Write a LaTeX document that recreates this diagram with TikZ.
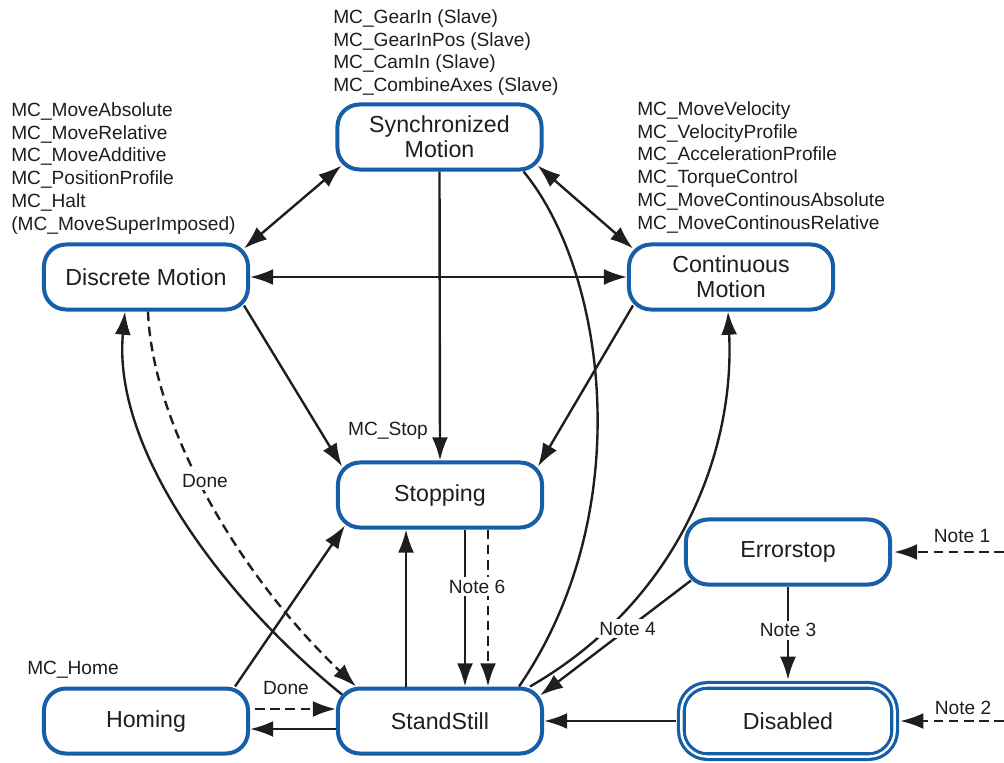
\documentclass[tikz,border=0pt]{standalone}
\usepackage{fontspec}
\setmainfont{Liberation Sans}
\usetikzlibrary{arrows.meta}

\begin{document}
\begin{tikzpicture}[x=0.025cm, y=0.025cm, >={Latex[length=0.58cm,width=0.4cm]},
  state/.style={draw=stateblue, line width=0.1cm, fill=white, text=labeltext,
    rounded corners=0.55cm, minimum width=5.1cm, minimum height=1.625cm,
    inner sep=0pt, align=center, font=\fontsize{16.5}{17.7}\selectfont},
  finalstate/.style={state, line width=0.08cm, double=white, double distance=0.06cm,
    minimum width=5.33cm, minimum height=1.78cm, rounded corners=0.65cm},
  fblist/.style={anchor=north west, inner sep=0pt, align=left, text=labeltext,
    font=\fontsize{13.6}{16.3}\selectfont},
  lbl/.style={anchor=base, inner sep=0pt, text=labeltext,
    font=\fontsize{13.6}{16.3}\selectfont},
  notelbl/.style={lbl, fill=white, inner sep=2pt},
  trans/.style={draw=labeltext, line width=1.7pt},
  dashtrans/.style={trans, dash pattern=on 0.24cm off 0.14cm}
]
% Define colors
\definecolor{stateblue}{RGB}{22,94,168}
\definecolor{labeltext}{RGB}{30,30,30}

% Page frame
\useasboundingbox (0,0) rectangle (1004,-762);

% States
\node[state] (sync) at (439.5,-137) {Synchronized\\Motion};
\node[state] (disc) at (146,-277) {Discrete Motion};
\node[state] (cont) at (731,-277) {Continuous\\Motion};
\node[state] (stop) at (440,-495) {Stopping};
\node[state] (err) at (788,-552) {Errorstop};
\node[state] (home) at (146,-721) {Homing};
\node[state] (still) at (440,-721) {StandStill};
\node[finalstate] (dis) at (788,-721) {Disabled};

% Function block lists
\node[fblist] (synclist) at (333,-9) {MC\_GearIn (Slave)\\MC\_GearInPos (Slave)\\MC\_CamIn (Slave)\\MC\_CombineAxes (Slave)};
\node[fblist] (disclist) at (11,-102) {MC\_MoveAbsolute\\MC\_MoveRelative\\MC\_MoveAdditive\\MC\_PositionProfile\\MC\_Halt\\(MC\_MoveSuperImposed)};
\node[fblist] (contlist) at (637,-101) {MC\_MoveVelocity\\MC\_VelocityProfile\\MC\_AccelerationProfile\\MC\_TorqueControl\\MC\_MoveContinousAbsolute\\MC\_MoveContinousRelative};
\node[lbl] (stoplbl) at (388,-435) {MC\_Stop};
\node[lbl] (homelbl) at (73,-674) {MC\_Home};

% Free ends of the note arrows
\coordinate (note1start) at (1004,-552);
\coordinate (note2start) at (1004,-721);

% Between the motion states
\draw[trans, <->] ([shift={(-6,-6)}]disc.north east) -- ([shift={(6,6)}]sync.south west);
\draw[trans, <->] ([shift={(-6,6)}]sync.south east) -- ([shift={(6,-6)}]cont.north west);
\draw[trans, <->] (disc.east) -- (cont.west);

% Into Stopping
\draw[trans, ->] ([shift={(-6,6)}]disc.south east) -- ([shift={(6,-6)}]stop.north west);
\draw[trans, ->] (sync.south) -- (stop.north);
\draw[trans, ->] ([shift={(6,6)}]cont.south west) -- ([shift={(-6,-6)}]stop.north east);
\draw[trans, ->] ([shift={(-15,0)}]home.north east) -- ([shift={(9,4)}]stop.south west);
\draw[trans, ->] ([shift={(-34,0)}]still.north) -- ([shift={(-34,0)}]stop.south);

% Curved transitions from StandStill
\draw[trans] ([shift={(-20,0)}]sync.south east) .. controls (605,-270) and (640,-510) .. ([shift={(-25,0)}]still.north east);
\draw[trans, ->] ([shift={(-14,0)}]still.north east) .. controls (680,-600) and (735,-450) .. ([shift={(-3,0)}]cont.south);
\draw[trans, ->] ([shift={(6,-8)}]still.north west) .. controls (225,-600) and (112,-450) .. ([shift={(-21,0)}]disc.south);
\draw[dashtrans, ->] ([shift={(2,0)}]disc.south) .. controls (152,-420) and (232,-568) .. ([shift={(20,0)}]still.north west);
\node[notelbl] (done1) at (205,-487) {Done};

% Stopping back to StandStill
\draw[trans, ->] ([shift={(25,0)}]stop.south) -- ([shift={(25,0)}]still.north);
\draw[dashtrans, ->] ([shift={(48,0)}]stop.south) -- ([shift={(48,0)}]still.north);
\node[notelbl] (note6) at (477,-593) {Note 6};

% Errorstop and Disabled
\draw[trans, ->] ([shift={(7,6)}]err.south west) -- node[notelbl, anchor=center, pos=0.42] (note4) {Note 4} ([shift={(-4,-9)}]still.north east);
\draw[trans, ->] (err.south) -- node[notelbl, anchor=center, pos=0.47] (note3) {Note 3} ([shift={(0,4)}]dis.north);
\draw[trans, ->] ([shift={(-4,0)}]dis.west) -- (still.east);
\draw[dashtrans, ->] (note1start) -- ([shift={(2,0)}]err.east);
\node[lbl] (note1) at (962,-542) {Note 1};
\draw[dashtrans, ->] (note2start) -- ([shift={(4,0)}]dis.east);
\node[lbl] (note2) at (963,-714) {Note 2};

% Homing
\draw[dashtrans, ->] ([shift={(5,12)}]home.east) -- ([shift={(0,12)}]still.west);
\draw[trans, ->] ([shift={(0,-8)}]still.west) -- ([shift={(0,-8)}]home.east);
\node[lbl] (done2) at (286,-694) {Done};

\end{tikzpicture}
\end{document}
